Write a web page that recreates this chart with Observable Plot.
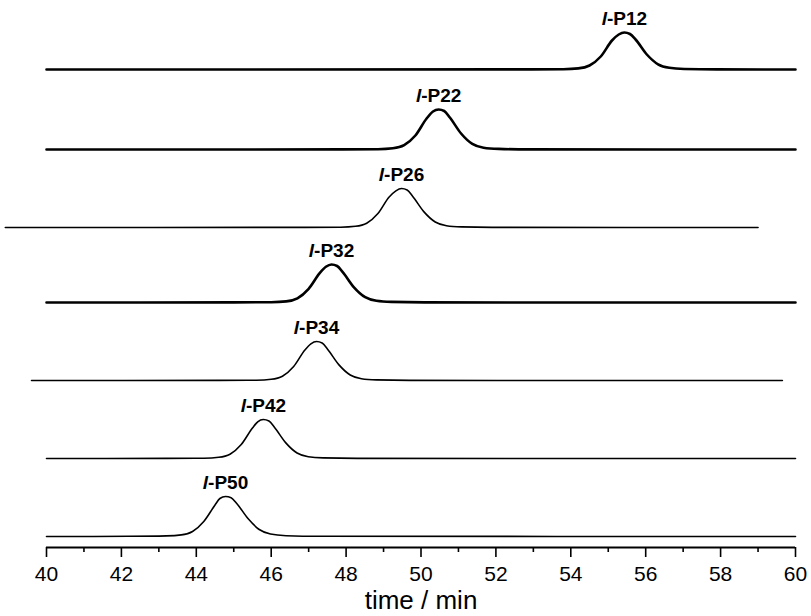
<!DOCTYPE html>
<html>
<head>
<meta charset="utf-8">
<script src="https://cdn.jsdelivr.net/npm/d3@7"></script>
<script src="https://cdn.jsdelivr.net/npm/@observablehq/plot@0.6"></script>
<style>
  html, body { margin: 0; padding: 0; background: #fff; }
  #chart { width: 811px; height: 616px; }
</style>
</head>
<body>
<div id="chart"></div>
<script>
// ---- data ----
const samples = ["l-P12", "l-P22", "l-P26", "l-P32", "l-P34", "l-P42", "l-P50"];
// vertical offset of each trace baseline (stacking, arbitrary units)
const offsets = [478, 398, 320, 245, 167, 89, 11];
const peakTimes = [55.43, 50.47, 49.48, 47.61, 47.21, 45.79, 44.78];
const peakHeights = [37, 40, 39, 38, 39, 39, 40];

// [time (min), signal] pairs for each trace
const traceP12 = [[40,0],[52.9,0.1],[53.8,0.3],[54.2,1.1],[54.5,4],[54.8,13],[55.1,29],[55.28,35],[55.43,37],[55.58,35.5],[55.73,30],[56.03,15],[56.33,5.2],[56.63,1.7],[57.03,0.55],[57.9,0.1],[60,0]];
const traceP22 = [[40,0],[47.9,0.1],[48.85,0.3],[49.25,1.2],[49.55,4.4],[49.85,14],[50.15,31],[50.32,38],[50.47,40],[50.62,38.5],[50.77,32],[51.07,16],[51.37,5.6],[51.67,1.8],[52.07,0.6],[52.9,0.1],[60,0]];
const traceP26 = [[38.9,0],[46.9,0.1],[47.85,0.3],[48.25,1.2],[48.55,4.3],[48.85,14],[49.15,30.5],[49.33,36.7],[49.48,39],[49.63,37.5],[49.78,31],[50.08,15.6],[50.38,5.5],[50.68,1.8],[51.08,0.6],[51.9,0.1],[59.0,0]];
const traceP32 = [[40,0],[45.0,0.1],[46.0,0.3],[46.4,1.1],[46.7,4.2],[47.0,13.7],[47.3,29.6],[47.46,35.7],[47.61,38],[47.76,36.5],[47.91,30.4],[48.21,15.2],[48.51,5.3],[48.81,1.7],[49.21,0.6],[50.1,0.1],[60,0]];
const traceP34 = [[39.6,0],[44.6,0.1],[45.6,0.3],[46.0,1.2],[46.3,4.3],[46.6,14],[46.9,30.5],[47.06,36.7],[47.21,39],[47.36,37.5],[47.51,31],[47.81,15.6],[48.11,5.5],[48.41,1.8],[48.81,0.6],[49.7,0.1],[59.65,0]];
const traceP42 = [[40,0],[43.2,0.1],[44.2,0.3],[44.6,1.2],[44.9,4.3],[45.2,14],[45.5,30.5],[45.64,36.7],[45.79,39],[45.94,37.5],[46.09,31],[46.39,15.6],[46.69,5.5],[46.99,1.8],[47.39,0.6],[48.3,0.1],[60,0]];
const traceP50 = [[40,0],[42.2,0.2],[43.2,0.6],[43.6,1.6],[43.9,5],[44.2,15],[44.5,31.5],[44.63,38],[44.78,40],[44.93,38.8],[45.08,33],[45.38,18],[45.68,7],[45.98,2.5],[46.4,0.8],[47.3,0.2],[60,0]];

const majorTicks = [40, 42, 44, 46, 48, 50, 52, 54, 56, 58, 60];
const minorTicks = [41, 43, 45, 47, 49, 51, 53, 55, 57, 59];
const xTitle = "time / min";

// ---- build ----
const traces = [traceP12, traceP22, traceP26, traceP32, traceP34, traceP42, traceP50];
const thickSet = new Set(["l-P12", "l-P22", "l-P32"]);
const rows = samples.flatMap((name, k) =>
  traces[k].map(([t, v]) => ({name, t, y: offsets[k] + v})));
const labels = samples.map((name, k) => ({name, t: peakTimes[k], y: offsets[k] + peakHeights[k]}));

const font = "'Liberation Sans', Arial, sans-serif";

const chart = Plot.plot({
  width: 811,
  height: 616,
  marginLeft: 46,
  marginRight: 16,
  marginTop: 0,
  marginBottom: 69,
  style: {fontFamily: font, fontSize: "20px", color: "black", background: "white"},
  x: {domain: [40, 60]},
  y: {domain: [0, 547], axis: null},
  marks: [
    Plot.lineY(rows.filter(d => !thickSet.has(d.name)), {x: "t", y: "y", z: "name", curve: "monotone-x", stroke: "black", strokeWidth: 1.6}),
    Plot.lineY(rows.filter(d => thickSet.has(d.name)), {x: "t", y: "y", z: "name", curve: "monotone-x", stroke: "black", strokeWidth: 2.6}),
    Plot.ruleY([0], {stroke: "black", strokeWidth: 2}),
    Plot.axisX({ticks: majorTicks, tickSize: 10, tickPadding: 9, tickFormat: d => String(d), label: null, strokeWidth: 1.6, fontSize: 21}),
    Plot.axisX({ticks: minorTicks, tickSize: 5, tickFormat: () => "", label: null, strokeWidth: 1.6}),
    Plot.text(labels, {x: "t", y: "y", text: "name", dy: -14, fontWeight: "bold", fontSize: 19}),
    Plot.text([xTitle], {frameAnchor: "bottom", dy: 61, fontSize: 26})
  ]
});

// italic leading "l" in the sample labels
d3.select(chart).selectAll("text").each(function() {
  const s = this.textContent;
  if (/^l-P\d+$/.test(s)) {
    const el = d3.select(this);
    el.text("");
    el.append("tspan").attr("font-style", "italic").text("l");
    el.append("tspan").text(s.slice(1));
  }
});

document.getElementById("chart").appendChild(chart);
</script>
</body>
</html>
